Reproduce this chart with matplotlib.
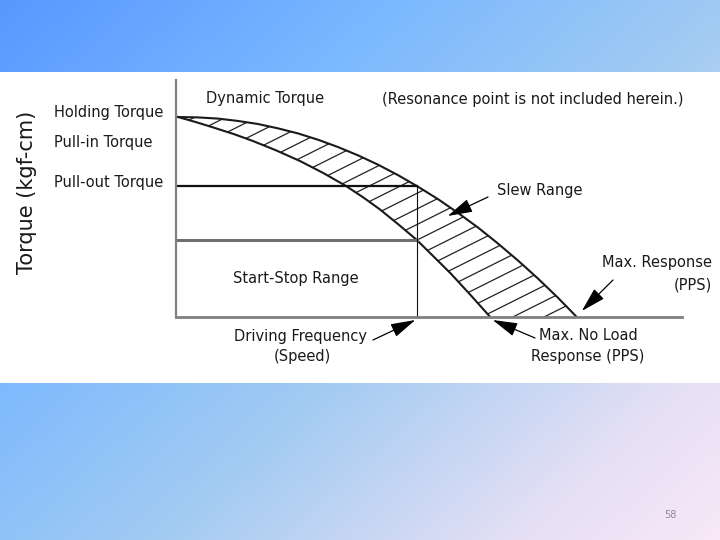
import numpy as np
import matplotlib
matplotlib.use("Agg")
import matplotlib.pyplot as plt
from matplotlib.colors import LinearSegmentedColormap
from matplotlib.patches import Rectangle, Polygon

# speed axis in arbitrary pps units (0..1000), torque in kgf-cm units
pull_out_freq = [4, 43, 83, 123, 162, 202, 241, 281, 320, 360, 399,
                 439, 478, 518, 557, 597, 636, 676, 715, 755, 792]
pull_out_torque = [10.0, 9.98, 9.92, 9.80, 9.65, 9.43, 9.18, 8.86, 8.5, 8.08, 7.62,
                   7.09, 6.52, 5.89, 5.21, 4.47, 3.68, 2.82, 1.93, 0.96, 0.0]

pull_in_freq = [4, 40, 77, 115, 152, 198, 245, 291, 336, 370, 403,
                439, 476, 508, 542, 581, 621]
pull_in_torque = [10.0, 9.74, 9.45, 9.14, 8.8, 8.33, 7.8, 7.2, 6.55, 5.98, 5.38,
                  4.64, 3.85, 3.05, 2.2, 1.13, 0.0]

drive_freq = 477
pull_out_level = 6.53
pull_in_level = 3.85
slew_point = (537, 5.05)

W, H = 720, 540


def fx(px):
    return px / W


def fy(py):
    return 1 - py / H


fig = plt.figure(figsize=(7.2, 5.4), dpi=100)

# slide background
bg = fig.add_axes([0, 0, 1, 1])
xx, yy = np.meshgrid(np.linspace(0, 1, W), np.linspace(0, 1, H))
grad = 0.55 * xx + 0.45 * yy
cmap = LinearSegmentedColormap.from_list(
    "slide", [(0, "#5898ff"), (0.3, "#7ab8ff"), (0.57, "#a2cbf2"),
              (0.85, "#e6e0f5"), (1, "#f8e8f8")])
bg.imshow(grad, cmap=cmap, aspect="auto", extent=[0, 1, 0, 1], origin="upper")
bg.add_patch(Rectangle((0, fy(383)), 1, (383 - 72) / H, color="white", lw=0))
bg.set_xlim(0, 1)
bg.set_ylim(0, 1)
bg.axis("off")

ax = fig.add_axes([fx(176), fy(317), (682 - 176) / W, (317 - 80) / H])
ax.set_facecolor("none")
ax.set_xlim(0, 1000)
ax.set_ylim(0, 11.85)
ax.set_xticks([])
ax.set_yticks([])
for s in ["top", "right"]:
    ax.spines[s].set_visible(False)
ax.spines["left"].set_color("#808080")
ax.spines["left"].set_linewidth(1.6)
ax.spines["bottom"].set_color("#808080")
ax.spines["bottom"].set_linewidth(2.0)

# slew range hatching
poly_pts = np.column_stack([pull_out_freq + pull_in_freq[::-1],
                            pull_out_torque + pull_in_torque[::-1]])
region = Polygon(poly_pts, closed=True, facecolor="none", edgecolor="none",
                 transform=ax.transData)
ax.add_patch(region)
slope = 0.5 / 20 * 0.506
for c in np.arange(-8.42 - 1.56, 10.5, 0.78):
    ln, = ax.plot([0, 1000], [c, c + slope * 1000], color="#222222", lw=0.9)
    ln.set_clip_path(region)

ax.plot(pull_out_freq, pull_out_torque, color="#1a1a1a", lw=1.5)
ax.plot(pull_in_freq, pull_in_torque, color="#1a1a1a", lw=1.5)

# start-stop box
ax.plot([0, drive_freq], [pull_out_level, pull_out_level], color="#111111", lw=1.6)
ax.plot([0, drive_freq], [pull_in_level, pull_in_level], color="#707070", lw=2.2)
ax.plot([drive_freq, drive_freq], [0, pull_out_level], color="#111111", lw=0.8)

txt = dict(color="#1a1a1a", fontsize=10.5, family="DejaVu Sans")
fig.text(fx(54), fy(113), "Holding Torque", ha="left", va="center", **txt)
fig.text(fx(54), fy(143), "Pull-in Torque", ha="left", va="center", **txt)
fig.text(fx(54), fy(182), "Pull-out Torque", ha="left", va="center", **txt)
fig.text(fx(206), fy(98), "Dynamic Torque", ha="left", va="center", **txt)
fig.text(fx(382), fy(100), "(Resonance point is not included herein.)",
         ha="left", va="center", **txt)
fig.text(fx(497), fy(191), "Slew Range", ha="left", va="center", **txt)
fig.text(fx(296), fy(278), "Start-Stop Range", ha="center", va="center", **txt)
fig.text(fx(712), fy(263), "Max. Response", ha="right", va="center", **txt)
fig.text(fx(712), fy(285), "(PPS)", ha="right", va="center", **txt)
fig.text(fx(300), fy(336), "Driving Frequency", ha="center", va="center", **txt)
fig.text(fx(302), fy(357), "(Speed)", ha="center", va="center", **txt)
fig.text(fx(588), fy(336), "Max. No Load", ha="center", va="center", **txt)
fig.text(fx(588), fy(357), "Response (PPS)", ha="center", va="center", **txt)
fig.text(fx(27), fy(192), "Torque (kgf-cm)", rotation=90, ha="center",
         va="center", color="#1a1a1a", fontsize=15, family="DejaVu Sans")
fig.text(fx(670), fy(515), "58", ha="center", va="center", color="#8a8a9a",
         fontsize=7)

arrow = dict(arrowstyle="-|>,head_length=0.9,head_width=0.25", color="black",
             lw=0.9, shrinkA=0, shrinkB=0, mutation_scale=17)
ax.annotate("", xy=slew_point, xycoords="data",
            xytext=(fx(488), fy(197)), textcoords="figure fraction",
            arrowprops=arrow, annotation_clip=False)
ax.annotate("", xy=(pull_out_freq[-1] + 10, 0.3), xycoords="data",
            xytext=(fx(613), fy(280)), textcoords="figure fraction",
            arrowprops=arrow, annotation_clip=False)
ax.annotate("", xy=(pull_in_freq[-1] + 5, -0.15), xycoords="data",
            xytext=(fx(535), fy(338)), textcoords="figure fraction",
            arrowprops=arrow, annotation_clip=False)
ax.annotate("", xy=(drive_freq - 4, -0.15), xycoords="data",
            xytext=(fx(373), fy(340)), textcoords="figure fraction",
            arrowprops=arrow, annotation_clip=False)

fig.savefig("out.png", dpi=100)
